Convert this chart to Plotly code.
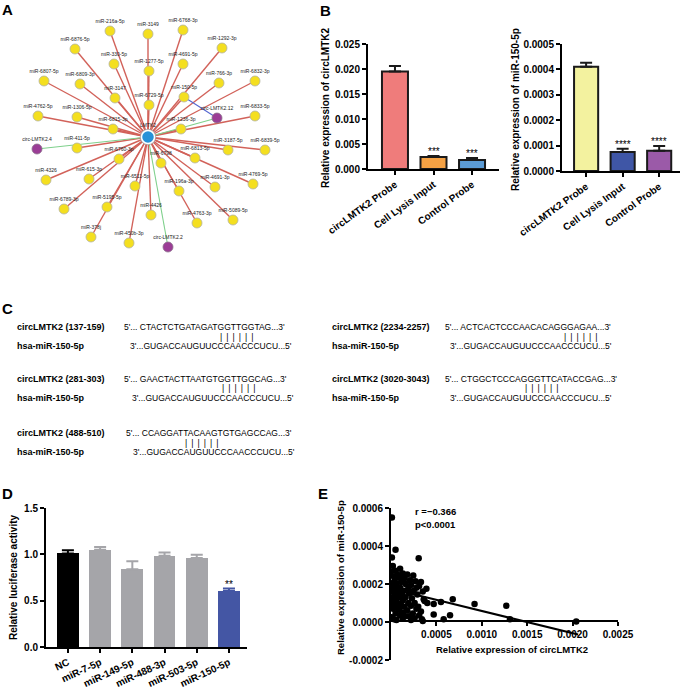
import plotly.graph_objects as go

W, H = 685, 688
FONT = "Liberation Sans, Arial, sans-serif"


def px(x):
    return x / W


def py(y):
    return 1 - y / H


# ---------------- Panel A: interaction network ----------------
node_names = ["LMTK2", "miR-216a-5p", "miR-3149", "miR-6768-3p", "miR-1292-3p", "miR-6876-5p",
              "miR-330-5p", "miR-1277-5p", "miR-4691-5p", "miR-6807-5p", "miR-6809-3p", "miR-766-3p",
              "miR-6832-3p", "miR-3147", "miR-6729-5p", "miR-150-5p", "miR-4762-5p", "miR-1306-5p",
              "miR-6815-3p", "miR-1236-3p", "circ-LMTK2.12", "miR-6833-5p", "circ-LMTK2.4", "miR-411-5p",
              "miR-3187-5p", "miR-6839-5p", "miR-6760-3p", "miR-6798", "miR-6813-5p", "miR-4326",
              "miR-615-3p", "miR-6511-5p", "miR-4691-3p", "miR-4769-5p", "miR-196a-3p", "miR-6789-3p",
              "miR-5195-5p", "miR-4426", "miR-4763-3p", "miR-5089-5p", "miR-378j", "miR-450b-3p",
              "circ-LMTK2.2"]
node_x = [148, 110, 148, 183, 222, 75, 114, 149, 183, 44, 80, 219, 255, 115, 149, 184, 38, 77, 113, 181,
          217, 255, 37, 77, 228, 265, 119, 161, 195, 46, 89, 135, 215, 253, 179, 64, 107, 151, 197, 233,
          91, 129, 168]
node_y = [137, 31, 34, 30, 48, 49, 64, 71, 64, 81, 84, 83, 81, 98, 105, 97, 116, 117, 129, 129, 118, 116,
          149, 148, 150, 150, 159, 163, 158, 180, 179, 186, 187, 184, 191, 209, 207, 215, 223, 220, 237,
          243, 247]
node_kind = ["gene"] + ["mirna"] * 19 + ["circ", "mirna", "circ"] + ["mirna"] * 19 + ["circ"]

edge_src = ["LMTK2"] * 42 + ["miR-150-5p"]
edge_dst = node_names[1:] + ["circ-LMTK2.12"]

# ---------------- Panel B ----------------
b_cats = ["circLMTK2 Probe", "Cell Lysis Input", "Control Probe"]
b1_vals = [0.0195, 0.0024, 0.0018]
b1_err = [0.0011, 0.0002, 0.0004]
b1_sig = ["", "***", "***"]
b1_colors = ["#ef7c7b", "#f4a144", "#5b9bd5"]
b2_vals = [0.00041, 0.000075, 0.00008]
b2_err = [0.000016, 0.000013, 0.000018]
b2_sig = ["", "****", "****"]
b2_colors = ["#f3f29f", "#3f56a6", "#9b5aa8"]

# ---------------- Panel C ----------------
c_site_labels = ["circLMTK2 (137-159)", "circLMTK2 (2234-2257)", "circLMTK2 (281-303)",
                 "circLMTK2 (3020-3043)", "circLMTK2 (488-510)"]
c_site_seqs = ["5'... CTACTCTGATAGATGGTTGGTAG...3'", "5'... ACTCACTCCCAACACAGGGAGAA...3'",
               "5'... GAACTACTTAATGTGGTTGGCAG...3'", "5'... CTGGCTCCCAGGGTTCATACCGAG...3'",
               "5'... CCAGGATTACAAGTGTGAGCCAG...3'"]
c_pair_frac = [0.587, 0.727, 0.598, 0.49, 0.36]   # where the 6 pairing bars start along the site line
c_mir_label = "hsa-miR-150-5p"
c_mir_seq = "3'...GUGACCAUGUUCCCAACCCUCU...5'"
c_pairs = ("|\u00a0\u2009" * 5) + "|"

# ---------------- Panel D ----------------
d_cats = ["NC", "miR-7-5p", "miR-149-5p", "miR-488-3p", "miR-503-5p", "miR-150-5p"]
d_vals = [1.01, 1.05, 0.84, 0.985, 0.96, 0.605]
d_err = [0.035, 0.03, 0.085, 0.035, 0.035, 0.025]
d_sig = ["", "", "", "", "", "**"]
d_colors = ["#000000", "#a5a5a9", "#a5a5a9", "#a5a5a9", "#a5a5a9", "#4456a4"]

# ---------------- Panel E ----------------
e_x = [0.00001, 0.00005, 0.00001, 0.000305, 0.00002, 0.0, 0.0001, 0.00005, 0.00018, 0.000245,
       0.00013, 0.00007, 0.00003, 0.00027, 0.00033, 0.00039, 0.00021, 0.00015, 0.00009, 0.00004,
       0.00011, 0.00002, 0.00006, 0.00016, 0.00022, 0.00031, 0.00028, 0.00003, 0.0001, 0.00019,
       0.00006, 0.00014, 0.00025, 0.00035, 0.00001, 0.00008, 0.0002, 0.00012, 0.00004, 0.00029,
       0.00036, 0.00002, 0.00009, 0.00016, 0.00023, 0.00005, 0.00013, 0.0, 0.00037, 0.0004,
       0.00047, 0.00055, 0.00068, 0.00092, 0.00127, 0.00026, 0.00019, 0.00007, 0.00011, 0.00003,
       0.00022, 0.00015, 0.0003, 0.00006, 0.00028, 0.00018, 0.00009, 0.00002, 0.00033, 0.00013,
       0.00024, 0.00005, 0.00047, 0.00031, 0.0001, 0.00065, 0.0002, 0.00001, 0.00034, 0.00026,
       0.00013, 0.00003, 0.00058, 0.00131, 0.00204, 0.00035, 0.00016, 0.00006, 0.00022]
e_y = [0.00055, 0.00038, 0.00034, 0.000335, 0.000295, 0.000265, 0.00028, 0.00027, 0.00025, 0.000245,
       0.000255, 0.00025, 0.00024, 0.000215, 0.00021, 0.000175, 0.00022, 0.00023, 0.000235, 0.00022,
       0.00021, 0.000205, 0.0002, 0.0002, 0.000195, 0.00019, 0.00018, 0.000185, 0.00018, 0.000175,
       0.00017, 0.000165, 0.000165, 0.00016, 0.00016, 0.000155, 0.00015, 0.000145, 0.000145, 0.000145,
       0.00012, 0.00013, 0.00013, 0.00013, 0.000125, 0.00012, 0.000115, 0.000115, 0.00011, 0.0001,
       0.000095, 0.000105, 0.00012, 0.000095, 0.000085, 0.0001, 0.0001, 0.0001, 0.00009, 0.000095,
       0.000085, 0.00008, 0.00008, 0.000075, 0.00007, 0.00006, 0.000065, 0.00007, 0.000055, 0.00005,
       0.000045, 0.000045, 0.00004, 0.000035, 0.000035, 0.000035, 0.00003, 0.000025, 0.000015, 0.00002,
       0.00002, 0.000015, 0.000015, 0.000015, 0.000003, 0.000005, 0.00003, 0.00001, 0.00001]
e_fit_x = [0.0, 0.00206]
e_fit_y = [0.000175, -0.000066]
e_stats = ["r =\u22120.366", "p<0.0001"]
e_xticks = [0.0005, 0.0010, 0.0015, 0.0020, 0.0025]
e_xticklabels = ["0.0005", "0.0010", "0.0015", "0.0020", "0.0025"]
e_yticks = [-0.0002, 0.0, 0.0002, 0.0004, 0.0006]
e_yticklabels = ["-0.0002", "0.0000", "0.0002", "0.0004", "0.0006"]

# =============================================================
fig = go.Figure()

# ---- Panel A traces
pos = {n: (x, y) for n, x, y in zip(node_names, node_x, node_y)}
edge_colors = {"red": "#d2625a", "green": "#7fd08c", "blue": "#5467d0"}
groups = {"red": ([], []), "green": ([], []), "blue": ([], [])}
for s, d in zip(edge_src, edge_dst):
    if s != "LMTK2":
        key = "blue"
    elif d.startswith("circ"):
        key = "green"
    else:
        key = "red"
    xs, ys = groups[key]
    xs += [pos[s][0], pos[d][0], None]
    ys += [pos[s][1], pos[d][1], None]
for key, (xs, ys) in groups.items():
    fig.add_trace(go.Scatter(x=xs, y=ys, mode="lines", xaxis="x6", yaxis="y6",
                             line=dict(color=edge_colors[key], width=1.4 if key == "red" else 1.1),
                             hoverinfo="skip", showlegend=False))

kind_style = {"mirna": ("#f4df1f", 10, "#b3b3a0"), "circ": ("#9b3d96", 10, "#8a6f8a"),
              "gene": ("#2692d8", 13, "#ffffff")}
for kind, (col, size, lcol) in kind_style.items():
    idx = [i for i, k in enumerate(node_kind) if k == kind]
    if kind == "gene":
        fig.add_trace(go.Scatter(x=[node_x[i] for i in idx], y=[node_y[i] for i in idx], mode="markers",
                                 xaxis="x6", yaxis="y6", marker=dict(size=16, color="#a9a9a9"),
                                 hoverinfo="skip", showlegend=False))
    fig.add_trace(go.Scatter(
        x=[node_x[i] for i in idx], y=[node_y[i] for i in idx], mode="markers+text",
        text=[node_names[i] for i in idx], textposition="top center",
        textfont=dict(size=5, color="#222222", family=FONT),
        xaxis="x6", yaxis="y6",
        marker=dict(size=size, color=col, line=dict(color=lcol, width=1.5 if kind == "gene" else 0.8)),
        hoverinfo="skip", showlegend=False))

# ---- Panel B traces
fig.add_trace(go.Bar(x=b_cats, y=b1_vals, width=0.675, xaxis="x2", yaxis="y2",
                     marker=dict(color=b1_colors, line=dict(color="#1a1a1a", width=2)),
                     error_y=dict(type="data", array=b1_err, arrayminus=[0, 0, 0], symmetric=False,
                                  color="#1a1a1a", thickness=2, width=6),
                     showlegend=False))
fig.add_trace(go.Bar(x=b_cats, y=b2_vals, width=0.66, xaxis="x3", yaxis="y3",
                     marker=dict(color=b2_colors, line=dict(color="#1a1a1a", width=2)),
                     error_y=dict(type="data", array=b2_err, arrayminus=[0, 0, 0], symmetric=False,
                                  color="#1a1a1a", thickness=2, width=6),
                     showlegend=False))

# ---- Panel D
fig.add_trace(go.Bar(x=d_cats, y=d_vals, width=0.68, xaxis="x4", yaxis="y4",
                     marker=dict(color=d_colors, line=dict(width=0)),
                     showlegend=False))
for i in range(len(d_cats)):
    fig.add_trace(go.Scatter(x=[d_cats[i]], y=[d_vals[i]], mode="markers", xaxis="x4", yaxis="y4",
                             marker=dict(size=1, color="rgba(0,0,0,0)"),
                             error_y=dict(type="data", array=[d_err[i]], arrayminus=[0], symmetric=False,
                                          color=d_colors[i] if i else "#000000", thickness=2, width=6),
                             hoverinfo="skip", showlegend=False))

# ---- Panel E
fig.add_trace(go.Scatter(x=e_fit_x, y=e_fit_y, mode="lines", xaxis="x5", yaxis="y5",
                         line=dict(color="#000000", width=2), showlegend=False, hoverinfo="skip"))
fig.add_trace(go.Scatter(x=e_x, y=e_y, mode="markers", xaxis="x5", yaxis="y5",
                         marker=dict(size=6.5, color="#000000"), showlegend=False))

# ---- Axes
axis_common = dict(showline=True, linecolor="#000000", linewidth=2, ticks="outside", ticklen=4,
                   tickwidth=2, tickcolor="#000000", showgrid=False, zeroline=False, automargin=False,
                   tickfont=dict(family=FONT, size=10, color="#000000", weight="bold"))

layout_axes = dict(
    xaxis6=dict(domain=[0, px(300)], range=[0, 300], visible=False, anchor="y6", automargin=False),
    yaxis6=dict(domain=[py(280), 1], range=[280, 0], visible=False, anchor="x6", automargin=False),
    xaxis2=dict(domain=[px(368), px(499)], range=[-0.7, 2.7], anchor="y2", tickangle=-36, **axis_common),
    yaxis2=dict(domain=[py(169), py(44)], range=[0, 0.025], dtick=0.005, tickformat=".3f", anchor="x2",
                **axis_common),
    xaxis3=dict(domain=[px(562), px(680)], range=[-0.66, 2.57], anchor="y3", tickangle=-36, **axis_common),
    yaxis3=dict(domain=[py(171), py(44)], range=[0, 0.0005], dtick=0.0001, tickformat=".4f", anchor="x3",
                **axis_common),
    xaxis4=dict(domain=[px(46), px(247)], range=[-0.68, 5.56], anchor="y4", tickangle=-25, **axis_common),
    yaxis4=dict(domain=[py(647), py(508)], range=[0, 1.5], dtick=0.5, tickformat=".1f", anchor="x4",
                **axis_common),
    xaxis5=dict(domain=[px(391), px(618)], range=[0, 0.0025], anchor="free", position=py(621),
                tickvals=e_xticks, ticktext=e_xticklabels, **axis_common),
    yaxis5=dict(domain=[py(660), py(508)], range=[-0.0002, 0.0006], anchor="x5",
                tickvals=e_yticks, ticktext=e_yticklabels, **axis_common),
)

annotations = []


def txt(x, y, s, size=10, bold=True, angle=0, xanchor="center", yanchor="middle"):
    annotations.append(dict(x=px(x), y=py(y), xref="paper", yref="paper", text=s, showarrow=False,
                            xanchor=xanchor, yanchor=yanchor, textangle=angle,
                            font=dict(family=FONT, size=size, color="#000000",
                                      weight="bold" if bold else "normal")))


# panel letters
txt(8, 9, "A", 15)
txt(325, 10, "B", 15)
txt(8, 308, "C", 15)
txt(8, 493, "D", 15)
txt(323, 493, "E", 15)

# axis titles
txt(325, 108, "Relative expression of circLMTK2", 10, angle=-90)
txt(515, 110, "Relative expression of miR-150-5p", 10, angle=-90)
txt(13, 577, "Relative luciferase activity", 10, angle=-90)
txt(340, 578, "Relative expression of miR-150-5p", 9.5, angle=-90)
txt(512, 649, "Relative expression of circLMTK2", 9.5)

# E stats
txt(413, 511, e_stats[0], 9.5, xanchor="left")
txt(413, 524, e_stats[1], 9.5, xanchor="left")

# significance stars
for c, v, e, s in zip(b_cats, b1_vals, b1_err, b1_sig):
    if s:
        annotations.append(dict(x=c, y=v + e, xref="x2", yref="y2", text=s, showarrow=False,
                                yanchor="bottom", yshift=-3,
                                font=dict(family=FONT, size=10, color="#000000")))
for c, v, e, s in zip(b_cats, b2_vals, b2_err, b2_sig):
    if s:
        annotations.append(dict(x=c, y=v + e, xref="x3", yref="y3", text=s, showarrow=False,
                                yanchor="bottom", yshift=-3,
                                font=dict(family=FONT, size=10, color="#000000")))
for c, v, e, s in zip(d_cats, d_vals, d_err, d_sig):
    if s:
        annotations.append(dict(x=c, y=v + e, xref="x4", yref="y4", text=s, showarrow=False,
                                yanchor="bottom", yshift=-3,
                                font=dict(family=FONT, size=10, color="#000000")))

# Panel C text blocks
SEQ_W = 164
c_blocks = [  # (label x, seq x, mir seq x, row y)
    (15, 122, 128, 327),
    (330, 443, 448, 327),
    (15, 122, 130, 379),
    (330, 443, 448, 379),
    (15, 124, 131, 433),
]
for (lx, sx, mx, ry), lab, seq, fr in zip(c_blocks, c_site_labels, c_site_seqs, c_pair_frac):
    txt(lx, ry, lab, 9, xanchor="left")
    txt(sx, ry, seq, 8.5, bold=False, xanchor="left")
    txt(sx + fr * SEQ_W, ry + 9.5, c_pairs, 8.5, bold=False, xanchor="left")
    txt(lx, ry + 19, c_mir_label, 9, xanchor="left")
    txt(mx, ry + 19, c_mir_seq, 8.5, bold=False, xanchor="left")

fig.update_layout(
    template="none",
    width=W, height=H, margin=dict(l=0, r=0, t=0, b=0, autoexpand=False),
    paper_bgcolor="#ffffff", plot_bgcolor="#ffffff",
    font=dict(family=FONT, color="#000000"),
    showlegend=False, bargap=0,
    annotations=annotations,
    **layout_axes,
)

fig.write_html("out.html", config={"displayModeBar": False, "staticPlot": True},
               post_script="document.body.style.margin='0px';document.body.style.padding='0px';"
                           "document.documentElement.style.overflow='hidden';")
